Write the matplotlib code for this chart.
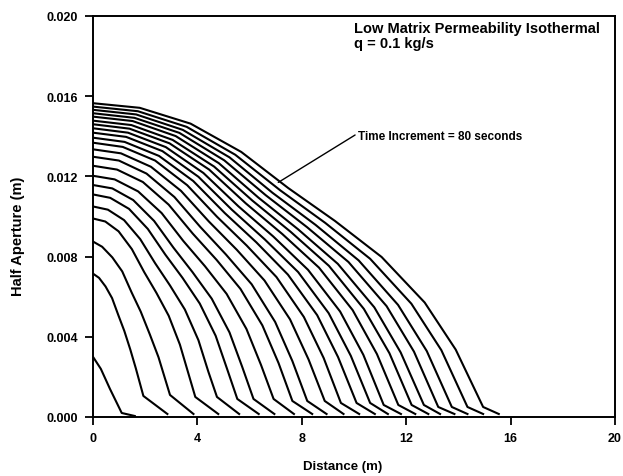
import matplotlib
matplotlib.use("Agg")
import matplotlib.pyplot as plt

plt.rcParams['font.family'] = ['Liberation Sans', 'DejaVu Sans']
plt.rcParams['font.weight'] = 'bold'

# aperture profiles, one per 80 s time step (distance in m, half aperture in m)
x_t01 = [0, 0.3, 0.65, 1.1, 1.6]
h_t01 = [0.0030, 0.0024, 0.0014, 0.0002, 0.00005]
x_t02 = [0, 0.23, 0.48, 0.73, 0.97, 1.2, 1.43, 1.64, 1.93, 2.85]
h_t02 = [0.00715, 0.00694, 0.00651, 0.00593, 0.00508, 0.00429, 0.00336, 0.00243, 0.00105, 0.00015]
x_t03 = [0, 0.35, 0.74, 1.12, 1.48, 1.83, 2.18, 2.51, 2.95, 3.85]
h_t03 = [0.00875, 0.00849, 0.00796, 0.00726, 0.00621, 0.00525, 0.00411, 0.00298, 0.0011, 0.00015]
x_t04 = [0, 0.47, 0.98, 1.49, 1.96, 2.43, 2.9, 3.33, 3.92, 4.8]
h_t04 = [0.0099, 0.00975, 0.00926, 0.00837, 0.00723, 0.00619, 0.00505, 0.00361, 0.001, 0.00015]
x_t05 = [0, 0.57, 1.19, 1.81, 2.38, 2.95, 3.52, 4.04, 4.42, 4.75, 5.6]
h_t05 = [0.0105, 0.01034, 0.00982, 0.00887, 0.00767, 0.00656, 0.00536, 0.00383, 0.00226, 0.001, 0.00015]
x_t06 = [0, 0.66, 1.38, 2.1, 2.77, 3.43, 4.09, 4.7, 5.14, 5.53, 6.35]
h_t06 = [0.0111, 0.01093, 0.01038, 0.00938, 0.0081, 0.00694, 0.00566, 0.00405, 0.00239, 0.0009, 0.00015]
x_t07 = [0, 0.74, 1.54, 2.34, 3.08, 3.81, 4.55, 5.23, 5.72, 6.15, 6.95]
h_t07 = [0.01157, 0.0114, 0.01082, 0.00978, 0.00845, 0.00723, 0.0059, 0.00422, 0.00249, 0.0009, 0.00015]
x_t08 = [0, 0.83, 1.73, 2.63, 3.46, 4.29, 5.12, 5.88, 6.44, 6.92, 7.7]
h_t08 = [0.01203, 0.01185, 0.01125, 0.01017, 0.00878, 0.00752, 0.00614, 0.00439, 0.00259, 0.0009, 0.00015]
x_t09 = [0, 0.92, 1.91, 2.9, 3.82, 4.74, 5.65, 6.49, 7.11, 7.64, 8.4]
h_t09 = [0.01253, 0.01234, 0.01172, 0.01059, 0.00915, 0.00783, 0.00639, 0.00457, 0.00269, 0.0008, 0.00015]
x_t10 = [0, 0.99, 2.05, 3.12, 4.11, 5.09, 6.08, 6.98, 7.64, 8.21, 8.95]
h_t10 = [0.01298, 0.01279, 0.01214, 0.01097, 0.00948, 0.00811, 0.00662, 0.00474, 0.00279, 0.0008, 0.00015]
x_t11 = [0, 1.07, 2.22, 3.37, 4.44, 5.51, 6.57, 7.55, 8.26, 8.88, 9.6]
h_t11 = [0.01335, 0.01315, 0.01248, 0.01128, 0.00975, 0.00834, 0.00681, 0.00487, 0.00287, 0.0008, 0.00015]
x_t12 = [0, 1.14, 2.38, 3.61, 4.75, 5.89, 7.03, 8.08, 8.84, 9.5, 10.2]
h_t12 = [0.01368, 0.01347, 0.01279, 0.01156, 0.00999, 0.00855, 0.00698, 0.00499, 0.00294, 0.0007, 0.00015]
x_t13 = [0, 1.21, 2.53, 3.84, 5.05, 6.26, 7.47, 8.59, 9.39, 10.1, 10.8]
h_t13 = [0.01393, 0.01372, 0.01302, 0.01177, 0.01017, 0.00871, 0.0071, 0.00508, 0.00299, 0.0007, 0.00015]
x_t14 = [0, 1.27, 2.66, 4.04, 5.31, 6.58, 7.86, 9.03, 9.88, 10.62, 11.3]
h_t14 = [0.01418, 0.01397, 0.01326, 0.01198, 0.01035, 0.00886, 0.00723, 0.00518, 0.00305, 0.0007, 0.00015]
x_t15 = [0, 1.34, 2.79, 4.23, 5.57, 6.91, 8.24, 9.47, 10.36, 11.14, 11.8]
h_t15 = [0.0144, 0.01418, 0.01346, 0.01217, 0.01051, 0.009, 0.00734, 0.00526, 0.0031, 0.0006, 0.00015]
x_t16 = [0, 1.4, 2.93, 4.45, 5.85, 7.25, 8.66, 9.95, 10.88, 11.7, 12.35]
h_t16 = [0.0146, 0.01438, 0.01365, 0.01234, 0.01066, 0.00913, 0.00745, 0.00533, 0.00314, 0.0006, 0.00015]
x_t17 = [0, 1.47, 3.05, 4.64, 6.11, 7.57, 9.04, 10.38, 11.36, 12.21, 12.85]
h_t17 = [0.01478, 0.01456, 0.01382, 0.01249, 0.01079, 0.00924, 0.00754, 0.00539, 0.00318, 0.0006, 0.00015]
x_t18 = [0, 1.52, 3.17, 4.82, 6.34, 7.86, 9.38, 10.78, 11.79, 12.68, 13.3]
h_t18 = [0.01498, 0.01476, 0.01401, 0.01266, 0.01094, 0.00936, 0.00764, 0.00547, 0.00322, 0.0006, 0.00015]
x_t19 = [0, 1.59, 3.31, 5.03, 6.62, 8.2, 9.79, 11.25, 12.3, 13.23, 13.85]
h_t19 = [0.01515, 0.01492, 0.01417, 0.0128, 0.01106, 0.00947, 0.00773, 0.00553, 0.00326, 0.0005, 0.00015]
x_t20 = [0, 1.65, 3.44, 5.23, 6.88, 8.53, 10.18, 11.69, 12.79, 13.75, 14.35]
h_t20 = [0.01532, 0.01509, 0.01432, 0.01295, 0.01118, 0.00958, 0.00781, 0.00559, 0.00329, 0.0005, 0.00015]
x_t21 = [0, 1.72, 3.59, 5.45, 7.18, 8.9, 10.62, 12.2, 13.35, 14.35, 14.95]
h_t21 = [0.01548, 0.01525, 0.01447, 0.01308, 0.0113, 0.00968, 0.00789, 0.00565, 0.00333, 0.0005, 0.00015]
x_t22 = [0, 1.79, 3.74, 5.68, 7.48, 9.27, 11.06, 12.71, 13.9, 14.95, 15.55]
h_t22 = [0.01565, 0.01542, 0.01463, 0.01322, 0.01142, 0.00978, 0.00798, 0.00571, 0.00336, 0.0005, 0.00015]

x_ticks = [0, 4, 8, 12, 16, 20]
x_ticklabels = ['0', '4', '8', '12', '16', '20']
y_ticks = [0.000, 0.004, 0.008, 0.012, 0.016, 0.020]
y_ticklabels = ['0.000', '0.004', '0.008', '0.012', '0.016', '0.020']

profiles = [
    (x_t01, h_t01), (x_t02, h_t02), (x_t03, h_t03), (x_t04, h_t04),
    (x_t05, h_t05), (x_t06, h_t06), (x_t07, h_t07), (x_t08, h_t08),
    (x_t09, h_t09), (x_t10, h_t10), (x_t11, h_t11), (x_t12, h_t12),
    (x_t13, h_t13), (x_t14, h_t14), (x_t15, h_t15), (x_t16, h_t16),
    (x_t17, h_t17), (x_t18, h_t18), (x_t19, h_t19), (x_t20, h_t20),
    (x_t21, h_t21), (x_t22, h_t22),
]

fig = plt.figure(figsize=(6.23, 4.77), dpi=100)
ax = fig.add_axes([0.1493, 0.1237, 0.8377, 0.8407])

for xs, hs in profiles:
    ax.plot(xs, hs, color='black', lw=1.5)

ax.set_xlim(0, 20)
ax.set_ylim(0, 0.020)
ax.set_xticks(x_ticks)
ax.set_xticklabels(x_ticklabels)
ax.set_yticks(y_ticks)
ax.set_yticklabels(y_ticklabels)
ax.tick_params(direction='out', length=6, width=1.3, labelsize=9, pad=5)
for lab in ax.get_xticklabels() + ax.get_yticklabels():
    lab.set_fontweight('bold')
for s in ax.spines.values():
    s.set_linewidth(1.4)

ax.set_xlabel('Distance (m)', fontsize=9.5, fontweight='bold')
ax.set_ylabel('Half Aperture (m)', fontsize=10.5, fontweight='bold')
ax.xaxis.set_label_coords(0.479, -0.107)
ax.yaxis.set_label_coords(-0.130, 0.454)

ax.text(10.0, 0.0194, 'Low Matrix Permeability Isothermal', fontsize=10.5,
        fontweight='bold', va='center', ha='left')
ax.text(10.0, 0.01865, 'q = 0.1 kg/s', fontsize=10.5, fontweight='bold',
        va='center', ha='left')

ax.annotate('Time Increment = 80 seconds', xy=(7.1, 0.0117), xytext=(10.15, 0.0140),
            fontsize=8.5, fontweight='bold', va='center', ha='left',
            arrowprops=dict(arrowstyle='-', color='black', lw=1.0,
                            shrinkA=0, shrinkB=0, relpos=(0, 0.75)))

fig.savefig('out.png', dpi=100)
